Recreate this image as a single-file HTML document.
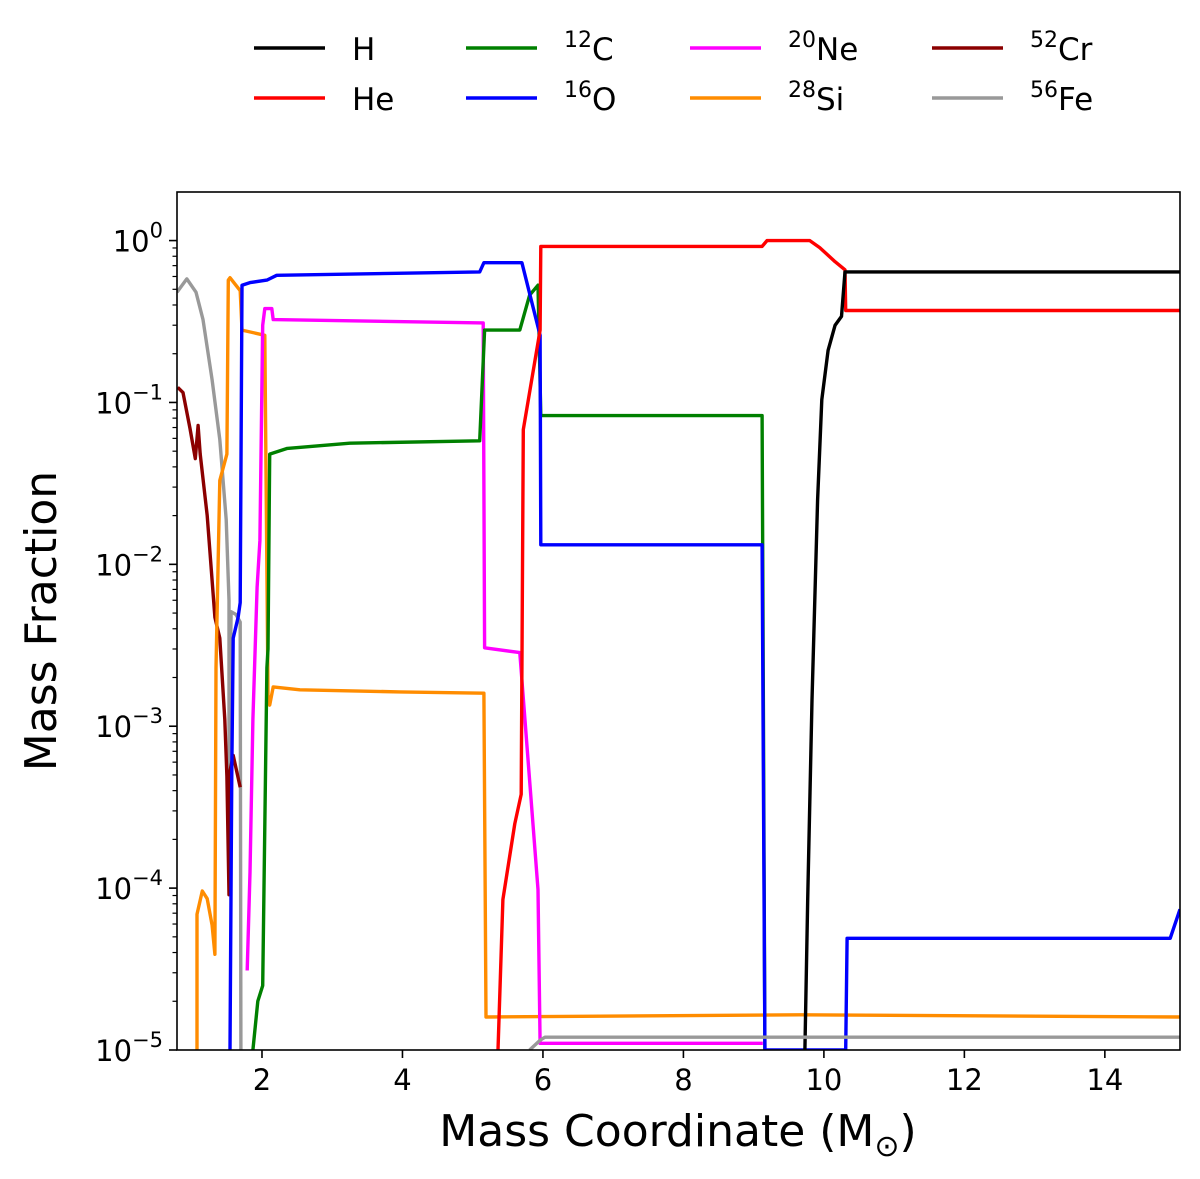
<!DOCTYPE html>
<html><head><meta charset="utf-8"><style>
body{margin:0;background:#fff;}
svg{display:block;font-family:"DejaVu Sans","Liberation Sans",sans-serif;}
</style></head><body>
<svg id="chart" width="1200" height="1179" viewBox="0 0 1200 1179">
<defs><clipPath id="clip"><rect x="177" y="192" width="1003" height="858"/></clipPath></defs>
<g id="legend"></g>
<g id="series" clip-path="url(#clip)"></g>
<rect x="177" y="192" width="1003" height="858" fill="none" stroke="#000" stroke-width="1.6"/>
<g id="axes"></g>
<text x="678" y="1146" font-size="44" text-anchor="middle">Mass Coordinate (M<tspan font-size="30" dy="10">⊙</tspan><tspan dy="-10">)</tspan></text>
<text transform="translate(56,621) rotate(-90)" font-size="44" text-anchor="middle">Mass Fraction</text>
</svg>
<script>
const xTicks=[2,4,6,8,10,12,14];
const yExps=[0,-1,-2,-3,-4,-5];
const names=["H","He","12C","16O","20Ne","28Si","52Cr","56Fe"];
const labels=[["","H"],["","He"],["12","C"],["16","O"],["20","Ne"],["28","Si"],["52","Cr"],["56","Fe"]];
const colors=["#000000","#ff0000","#008000","#0000ff","#ff00ff","#ff8c00","#8b0000","#999999"];
const hM=[9.73,9.77,9.83,9.91,9.97,10.06,10.16,10.25,10.30,15.1];
const hX=[1e-5,8.5e-5,1.45e-3,0.025,0.104,0.21,0.30,0.34,0.64,0.64];
const heM=[5.36,5.43,5.60,5.69,5.72,5.96,5.97,9.12,9.19,9.80,9.94,10.16,10.30,10.31,15.1];
const heX=[1e-5,8.5e-5,2.5e-4,3.8e-4,0.068,0.28,0.92,0.92,1.0,1.0,0.905,0.74,0.66,0.37,0.37];
const cM=[1.87,1.94,2.01,2.07,2.085,2.11,2.36,3.25,5.10,5.17,5.67,5.81,5.93,5.97,9.12,9.16];
const cX=[1e-5,2e-5,2.5e-5,2.3e-3,3e-3,0.048,0.052,0.056,0.058,0.28,0.28,0.46,0.53,0.083,0.083,1e-5];
const oM=[1.545,1.57,1.59,1.66,1.69,1.715,1.83,2.07,2.21,5.10,5.16,5.70,5.96,5.97,9.12,9.16,10.31,10.33,14.93,15.07];
const oX=[1e-5,5.3e-4,3.5e-3,4.7e-3,5.8e-3,0.53,0.55,0.57,0.61,0.64,0.73,0.73,0.26,0.0132,0.0132,1e-5,1e-5,4.9e-5,4.9e-5,7.4e-5];
const neM=[1.79,1.83,1.87,1.93,1.97,2.01,2.04,2.14,2.16,5.15,5.17,5.67,5.93,5.96,9.13];
const neX=[3.1e-5,1.25e-4,1.1e-3,7.2e-3,0.014,0.30,0.38,0.38,0.325,0.31,3.05e-3,2.85e-3,9.8e-5,1.1e-5,1.1e-5];
const siM=[1.075,1.075,1.15,1.22,1.29,1.33,1.345,1.40,1.50,1.52,1.545,1.69,1.715,2.04,2.085,2.11,2.16,2.54,3.96,5.16,5.19,9.66,15.1];
const siX=[1e-5,6.9e-5,9.6e-5,8.6e-5,5.9e-5,3.9e-5,2.3e-3,0.033,0.048,0.57,0.59,0.49,0.28,0.26,1.56e-3,1.35e-3,1.75e-3,1.68e-3,1.63e-3,1.6e-3,1.6e-5,1.65e-5,1.6e-5];
const crM=[0.80,0.875,0.975,1.05,1.09,1.12,1.22,1.33,1.40,1.47,1.50,1.53,1.545,1.59,1.69];
const crX=[0.124,0.115,0.069,0.045,0.072,0.048,0.02,0.0047,0.0035,1.1e-3,4.9e-4,9.1e-5,5.3e-4,6.6e-4,4.2e-4];
const feM=[0.79,0.93,1.06,1.16,1.29,1.40,1.49,1.53,1.53,1.56,1.63,1.69,1.70];
const feX=[0.48,0.58,0.48,0.325,0.138,0.059,0.0189,0.006,5.4e-4,5.1e-3,4.9e-3,4.4e-3,1e-5];
const fe2M=[5.81,5.96,6.03,15.1];
const fe2X=[1e-5,1.15e-5,1.2e-5,1.2e-5];
const seriesM=[hM,heM,cM,oM,neM,siM,crM,feM];
const seriesX=[hX,heX,cX,oX,neX,siX,crX,feX];

const X0=177,X1=1180,Y0=192,Y1=1050,XMIN=0.79,XMAX=15.07,LMIN=-5,LMAX=0.3;
function sx(m){return X0+(m-XMIN)/(XMAX-XMIN)*(X1-X0);}
function sy(v){return Y1-(Math.log10(v)-LMIN)/(LMAX-LMIN)*(Y1-Y0);}
const NS="http://www.w3.org/2000/svg";
const sg=document.getElementById("series");
function line(ms,xs,col,nm){
  const p=document.createElementNS(NS,"polyline");
  p.setAttribute("points",ms.map((m,i)=>sx(m).toFixed(1)+","+sy(xs[i]).toFixed(1)).join(" "));
  p.setAttribute("fill","none");p.setAttribute("stroke",col);p.setAttribute("stroke-width","3.4");
  p.setAttribute("stroke-linejoin","round");
  
  
  sg.appendChild(p);
}
const order=[7,6,5,4,2,3,1,0];
order.forEach(i=>line(seriesM[i],seriesX[i],colors[i],"line-"+names[i].toLowerCase()));
line(fe2M,fe2X,colors[7],"line-56fe-outer");

const ax=document.getElementById("axes");
function el(tag,attrs,txt){const e=document.createElementNS(NS,tag);for(const k in attrs)e.setAttribute(k,attrs[k]);if(txt!==undefined)e.textContent=txt;ax.appendChild(e);return e;}
xTicks.forEach(t=>{
  const x=sx(t);
  const tk=el("line",{x1:x,x2:x,y1:Y1,y2:Y1+8,stroke:"#000","stroke-width":1.6});
  
  
  const tl=el("text",{x:x,y:Y1+40,"font-size":29,"text-anchor":"middle"},String(t));
  
  
});
yExps.forEach(e=>{
  const y=sy(Math.pow(10,e));
  const tk=el("line",{x1:X0-8,x2:X0,y1:y,y2:y,stroke:"#000","stroke-width":1.6});
  
  
  const t=el("text",{x:X0-14,y:y+11,"font-size":29,"text-anchor":"end"});
  
  
  t.innerHTML='10<tspan dy="-14" font-size="21">'+(e<0?'−'+(-e):e)+'</tspan>';
  for(let k=2;k<=9;k++){
    const v=Math.pow(10,e)*k; if(Math.log10(v)>LMAX)continue;
    const yy=sy(v);
    const m=el("line",{x1:X0-4.5,x2:X0,y1:yy,y2:yy,stroke:"#000","stroke-width":1.2});
    
    
  }
});
const lg=document.getElementById("legend");
const lx=[254,466,690,932], ly=[48,98];
const cols=[[0,1],[2,3],[4,5],[6,7]];
cols.forEach((c,ci)=>c.forEach((si,ri)=>{
  const y=ly[ri];
  const l=document.createElementNS(NS,"line");
  l.setAttribute("x1",lx[ci]);l.setAttribute("x2",lx[ci]+71);l.setAttribute("y1",y);l.setAttribute("y2",y);
  l.setAttribute("stroke",colors[si]);l.setAttribute("stroke-width",3.5);
  
  
  lg.appendChild(l);
  const t=document.createElementNS(NS,"text");
  t.setAttribute("x",lx[ci]+98);t.setAttribute("y",y+12);t.setAttribute("font-size",31);
  
  
  const lb=labels[si];
  t.innerHTML=(lb[0]?'<tspan font-size="22" dy="-13">'+lb[0]+'</tspan><tspan dy="13">'+lb[1]+'</tspan>':lb[1]);
  lg.appendChild(t);
}));
</script>
</body></html>
